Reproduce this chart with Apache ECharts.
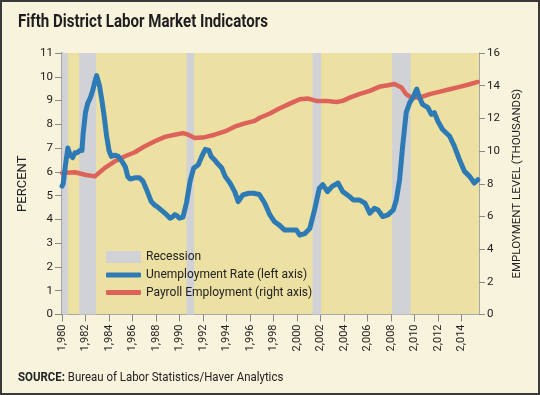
<!DOCTYPE html>
<html><head><meta charset="utf-8">
<script src="https://cdn.jsdelivr.net/npm/echarts@6/dist/echarts.min.js"></script>
<style>html,body{margin:0;padding:0;background:#f8f3dc}#c{width:540px;height:395px}</style>
</head><body><div id="c"></div>
<script>
const unempYears = [1980.0,1980.1,1980.3,1980.5,1980.7,1980.9,1981.1,1981.3,1981.5,1981.7,1981.8,1982.0,1982.2,1982.4,1982.6,1982.8,1982.95,1983.05,1983.2,1983.4,1983.6,1983.8,1984.0,1984.2,1984.5,1984.8,1985.1,1985.4,1985.6,1985.8,1986.2,1986.6,1986.9,1987.2,1987.6,1987.9,1988.2,1988.6,1988.9,1989.2,1989.4,1989.6,1989.8,1990.0,1990.3,1990.6,1990.9,1991.2,1991.6,1991.9,1992.2,1992.5,1992.7,1993.0,1993.2,1993.6,1993.9,1994.3,1994.7,1995.0,1995.4,1995.9,1996.3,1996.8,1997.26,1997.7,1998.1,1998.5,1998.96,1999.4,1999.96,2000.24,2000.66,2001.1,2001.5,2001.9,2002.2,2002.6,2003.0,2003.5,2003.9,2004.3,2004.8,2005.3,2005.8,2006.2,2006.6,2006.9,2007.3,2007.75,2008.2,2008.46,2008.74,2009.0,2009.3,2009.6,2009.87,2010.2,2010.44,2010.7,2011.15,2011.44,2011.7,2012.0,2012.4,2013.0,2013.4,2013.84,2014.27,2014.7,2015.1,2015.4];
const unempValues = [5.4,5.5,6.3,7.0,6.7,6.6,6.8,6.8,6.9,6.9,7.6,8.5,8.9,9.1,9.4,9.8,10.05,10.0,9.6,9.0,8.3,7.5,6.9,6.65,6.7,6.65,6.45,6.2,5.8,5.7,5.75,5.75,5.6,5.25,4.75,4.6,4.5,4.33,4.2,4.05,4.1,4.2,4.15,4.05,4.1,4.7,5.6,6.15,6.3,6.65,6.95,6.9,6.65,6.5,6.37,6.16,5.8,5.53,5.17,4.75,5.03,5.1,5.1,5.05,4.68,4.19,3.9,3.76,3.55,3.55,3.55,3.34,3.4,3.62,4.4,5.3,5.46,5.17,5.39,5.53,5.17,5.03,4.82,4.82,4.68,4.26,4.47,4.4,4.12,4.19,4.4,4.82,5.67,7.08,8.49,8.91,9.12,9.48,9.12,8.84,8.7,8.42,8.49,8.13,7.78,7.5,7.08,6.51,6.02,5.81,5.53,5.67];
const payYears = [1980.0,1981.1,1981.96,1982.8,1983.65,1984.5,1985.36,1986.2,1987.06,1987.9,1988.76,1989.6,1990.3,1990.74,1991.3,1992.16,1993.0,1993.86,1994.7,1995.56,1996.4,1996.84,1997.7,1998.5,1999.4,2000.24,2000.95,2001.66,2002.5,2003.36,2003.9,2004.5,2005.3,2006.2,2007.0,2007.75,2008.3,2008.9,2009.3,2009.74,2010.44,2011.3,2012.1,2013.0,2013.84,2014.7,2015.4];
const payValues = [8.66,8.7,8.55,8.45,8.97,9.37,9.68,9.93,10.3,10.6,10.87,11.0,11.1,11.0,10.8,10.85,11.0,11.2,11.49,11.69,11.85,12.04,12.3,12.6,12.9,13.17,13.21,13.07,13.07,13.0,13.07,13.27,13.48,13.68,13.93,14.03,14.1,13.89,13.48,13.27,13.27,13.48,13.62,13.78,13.93,14.09,14.23];
const recessionStarts = [1980.0,1981.47,1990.6,2001.33,2008.1];
const recessionEnds = [1980.5,1982.9,1991.25,2002.05,2009.68];
const leftTicks = [0,1,2,3,4,5,6,7,8,9,10,11];
const rightTicks = [0,2,4,6,8,10,12,14,16];
const yearTicks = [1980,1982,1984,1986,1988,1990,1992,1994,1996,1998,2000,2002,2004,2006,2008,2010,2012,2014];

const FONT = "Roboto, sans-serif";
const chart = echarts.init(document.getElementById('c'), null, {renderer:'canvas'});
const unempData = unempYears.map((y,i)=>[y, unempValues[i]]);
const payData = payYears.map((y,i)=>[y, payValues[i]]);
const recAreas = recessionStarts.map((s,i)=>[{xAxis:s},{xAxis:recessionEnds[i]}]);

chart.setOption({
  animation:false,
  backgroundColor:'#f8f3dc',
  graphic:[
    {type:'rect', shape:{x:1,y:1,width:538,height:393}, style:{fill:null, stroke:'#3a3a3a', lineWidth:2}, silent:true},
    {type:'text', x:18, y:13, scaleX:0.815, silent:true,
     style:{text:'Fifth District Labor Market Indicators', fontFamily:'Roboto', fontSize:18.5, fontWeight:'bold', fill:'#1e1e1e'}},
    {type:'text', x:18, y:371, scaleX:0.88, silent:true,
     style:{text:'{b|SOURCE:} Bureau of Labor Statistics/Haver Analytics', fontFamily:'Roboto', fontSize:13, fill:'#222',
       rich:{b:{fontFamily:'Roboto', fontSize:13, fontWeight:'bold', fill:'#222'}}}}
  ],
  grid:{left:62, top:53, width:417, height:261.5, show:true, backgroundColor:'#ece1a2', borderWidth:0, containLabel:false, outerBoundsMode:'none'},
  legend:[
    {data:[{name:'Recession', icon:'rect', itemStyle:{color:'#d0d2d6'}}], left:106, top:251, padding:0, itemWidth:35, itemHeight:12,
     selectedMode:false, textStyle:{fontFamily:FONT, fontSize:12, color:'#222'}},
    {data:[{name:'Unemployment Rate (left axis)', icon:'roundRect', itemStyle:{color:'#2e7ab4'}},
           {name:'Payroll Employment (right axis)', icon:'roundRect', itemStyle:{color:'#dc625a'}}],
     orient:'vertical', left:106, top:268, padding:0, itemWidth:35, itemHeight:5, itemGap:3.5, selectedMode:false,
     textStyle:{fontFamily:FONT, fontSize:12, color:'#222', lineHeight:14}}
  ],
  xAxis:{type:'value', min:1980, max:2015.5,
    axisLine:{show:true, lineStyle:{color:'#a8a8a8', width:1}},
    axisTick:{show:true, customValues:yearTicks, length:7, lineStyle:{color:'#888'}},
    axisLabel:{customValues:yearTicks, rotate:90, margin:10, fontFamily:FONT, fontSize:11, color:'#222'},
    splitLine:{show:false}},
  yAxis:[
    {type:'value', min:0, max:11, interval:1, position:'left',
     name:'PERCENT', nameLocation:'middle', nameGap:32, nameRotate:90,
     nameTextStyle:{fontFamily:FONT, fontSize:13, color:'#222'},
     axisLine:{show:true, lineStyle:{color:'#a8a8a8', width:2}},
     axisTick:{show:true, customValues:leftTicks, length:7, lineStyle:{color:'#888'}},
     axisLabel:{customValues:leftTicks, margin:9, fontFamily:FONT, fontSize:11.5, color:'#222'},
     splitLine:{show:false}},
    {type:'value', min:0, max:16, interval:2, position:'right',
     name:'EMPLOYMENT LEVEL (THOUSANDS)', nameLocation:'middle', nameGap:31, nameRotate:90,
     nameTextStyle:{fontFamily:FONT, fontSize:11.5, color:'#222'},
     axisLine:{show:true, lineStyle:{color:'#a8a8a8', width:1}},
     axisTick:{show:true, customValues:rightTicks, length:6, lineStyle:{color:'#888'}},
     axisLabel:{customValues:rightTicks, margin:8, fontFamily:FONT, fontSize:11.5, color:'#222'},
     splitLine:{show:false}}
  ],
  series:[
    {name:'Recession', type:'line', data:[], color:'#d0d2d6', silent:true,
     markArea:{silent:true, itemStyle:{color:'#d0d2d6', opacity:1}, data:recAreas}},
    {name:'Payroll Employment (right axis)', type:'line', yAxisIndex:1, data:payData, showSymbol:false,
     color:'#dc625a', lineStyle:{width:4.5, color:'#dc625a', cap:'round', join:'round'}, z:3},
    {name:'Unemployment Rate (left axis)', type:'line', yAxisIndex:0, data:unempData, showSymbol:false,
     color:'#2e7ab4', lineStyle:{width:5, color:'#2e7ab4', cap:'round', join:'round'}, z:4}
  ]
});
</script></body></html>
